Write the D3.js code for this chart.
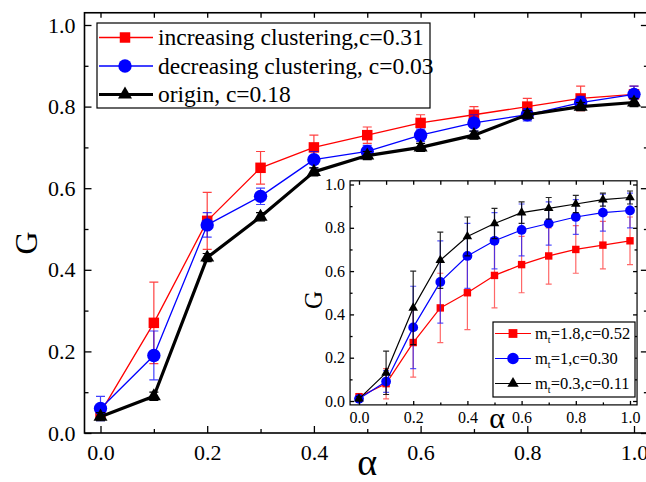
<!DOCTYPE html>
<html>
<head>
<meta charset="utf-8">
<script src="https://cdn.jsdelivr.net/npm/d3@7"></script>
<style>
  body { margin: 0; background: #fff; }
  svg { display: block; }
  svg text { font-family: "Liberation Serif", "Times New Roman", Times, "DejaVu Serif", serif; fill: #000; }
  .axis path { display: none; }
  .axis line { stroke: #000; stroke-width: 1.3; }
</style>
</head>
<body>
<svg id="chart" width="646" height="482"></svg>
<script>
// alpha values shared by both panels
var alphas = [0, 0.1, 0.2, 0.3, 0.4, 0.5, 0.6, 0.7, 0.8, 0.9, 1.0];

// main panel
var mainNames = ["increasing clustering,c=0.31", "decreasing clustering, c=0.03", "origin, c=0.18"];
var incValues = [0.05, 0.27, 0.52, 0.65, 0.70, 0.73, 0.76, 0.78, 0.80, 0.82, 0.83];
var incErrors = [0.01, 0.10, 0.07, 0.04, 0.03, 0.02, 0.02, 0.02, 0.02, 0.03, 0.02];
var decValues = [0.06, 0.19, 0.51, 0.58, 0.67, 0.69, 0.73, 0.76, 0.78, 0.81, 0.83];
var decErrors = [0.03, 0.06, 0.03, 0.02, 0.02, 0.015, 0.015, 0.02, 0.015, 0.015, 0.02];
var orgValues = [0.04, 0.09, 0.43, 0.53, 0.64, 0.68, 0.70, 0.73, 0.78, 0.80, 0.81];
var orgErrors = [0.01, 0.01, 0.01, 0.01, 0.01, 0.01, 0.01, 0.01, 0.01, 0.01, 0.01];

// inset panel
var insetNames = ["1.8,c=0.52", "1,c=0.30", "0.3,c=0.11"];
var m18Values = [0.02, 0.08, 0.27, 0.43, 0.50, 0.58, 0.63, 0.67, 0.70, 0.72, 0.74];
var m18Errors = [0.01, 0.07, 0.16, 0.16, 0.17, 0.15, 0.13, 0.13, 0.11, 0.11, 0.11];
var m1Values = [0.01, 0.09, 0.34, 0.55, 0.67, 0.74, 0.79, 0.82, 0.85, 0.87, 0.88];
var m1Errors = [0.01, 0.05, 0.19, 0.19, 0.15, 0.13, 0.12, 0.10, 0.08, 0.085, 0.08];
var m03Values = [0.01, 0.13, 0.43, 0.65, 0.76, 0.82, 0.87, 0.89, 0.91, 0.93, 0.94];
var m03Errors = [0.01, 0.10, 0.17, 0.13, 0.09, 0.07, 0.05, 0.05, 0.04, 0.03, 0.03];

var majorTicks = [0, 0.2, 0.4, 0.6, 0.8, 1.0];
var minorTicks = [0.1, 0.3, 0.5, 0.7, 0.9];

var serif = "'Liberation Serif', 'Times New Roman', Times, 'DejaVu Serif', serif";

var svg = d3.select("#chart");
var format = d3.format(".1f");

function zip(values, errors) {
  return alphas.map(function(a, i) { return {x: a, y: values[i], e: errors[i]}; });
}

function symbolPath(type, size) {
  return d3.symbol().type(type).size(size)();
}

// frame + inward ticks for a panel
function drawFrame(g, x, y, box, opt) {
  g.append("rect")
      .attr("x", x(box.x0)).attr("y", y(box.y1))
      .attr("width", x(box.x1) - x(box.x0))
      .attr("height", y(box.y0) - y(box.y1))
      .attr("fill", "none")
      .attr("stroke", "#000").attr("stroke-width", opt.stroke);

  var bottom = y(box.y0), top = y(box.y1), left = x(box.x0), right = x(box.x1);

  g.append("g").attr("class", "axis")
      .attr("transform", "translate(0," + bottom + ")")
      .call(d3.axisBottom(x).tickValues(majorTicks).tickFormat(format)
        .tickSize(-opt.major).tickPadding(opt.padX))
      .attr("font-family", serif).attr("font-size", opt.fontSize);
  g.append("g").attr("class", "axis")
      .attr("transform", "translate(0," + bottom + ")")
      .call(d3.axisBottom(x).tickValues(minorTicks).tickFormat("").tickSize(-opt.minor));

  g.append("g").attr("class", "axis")
      .attr("transform", "translate(" + left + ",0)")
      .call(d3.axisLeft(y).tickValues(majorTicks).tickFormat(format)
        .tickSize(-opt.major).tickPadding(opt.padY))
      .attr("font-family", serif).attr("font-size", opt.fontSize);
  g.append("g").attr("class", "axis")
      .attr("transform", "translate(" + left + ",0)")
      .call(d3.axisLeft(y).tickValues(minorTicks).tickFormat("").tickSize(-opt.minor));

  g.append("g").attr("class", "axis")
      .attr("transform", "translate(0," + top + ")")
      .call(d3.axisTop(x).tickValues(majorTicks.concat(minorTicks)).tickFormat("").tickSize(-opt.top));
  g.append("g").attr("class", "axis")
      .attr("transform", "translate(" + right + ",0)")
      .call(d3.axisRight(y).tickValues(majorTicks).tickFormat("").tickSize(-opt.major));
  g.append("g").attr("class", "axis")
      .attr("transform", "translate(" + right + ",0)")
      .call(d3.axisRight(y).tickValues(minorTicks).tickFormat("").tickSize(-opt.minor));
}

function drawSeries(g, x, y, s) {
  var data = zip(s.values, s.errors);
  g.append("g")
      .attr("stroke", s.errColor).attr("stroke-width", 1.2).attr("fill", "none")
    .selectAll("path")
      .data(data)
    .enter().append("path")
      .attr("d", function(d) {
        var cx = x(d.x), t = y(d.y + d.e), b = y(d.y - d.e), w = s.cap / 2;
        return "M" + cx + "," + t + "V" + b +
               "M" + (cx - w) + "," + t + "H" + (cx + w) +
               "M" + (cx - w) + "," + b + "H" + (cx + w);
      });

  g.append("path")
      .datum(data)
      .attr("fill", "none")
      .attr("stroke", s.color)
      .attr("stroke-width", s.width)
      .attr("stroke-linejoin", "round")
      .attr("d", d3.line().x(function(d) { return x(d.x); }).y(function(d) { return y(d.y); }));

  g.append("g").selectAll("path")
      .data(data)
    .enter().append("path")
      .attr("transform", function(d) { return "translate(" + x(d.x) + "," + y(d.y) + ")"; })
      .attr("d", symbolPath(s.symbol, s.size))
      .attr("fill", s.color);
}

// ---------- main panel ----------
var x = d3.scaleLinear().domain([0, 1]).range([100.5, 634]);
var y = d3.scaleLinear().domain([0, 1]).range([433, 25]);
var main = svg.append("g");

var mainSeries = [
  {values: incValues, errors: incErrors, color: "#ff0000", errColor: "rgba(255,0,0,0.75)", width: 1.3, symbol: d3.symbolSquare, size: 110, cap: 9},
  {values: decValues, errors: decErrors, color: "#0000ff", errColor: "rgba(0,0,255,0.75)", width: 1.3, symbol: d3.symbolCircle, size: 140, cap: 9},
  {values: orgValues, errors: orgErrors, color: "#000000", errColor: "#000", width: 3.2, symbol: d3.symbolTriangle, size: 85, cap: 9}
];
mainSeries.forEach(function(s) { drawSeries(main, x, y, s); });

drawFrame(main, x, y, {x0: -0.03, x1: 1.026, y0: 0, y1: 1.03},
  {stroke: 1.6, fontSize: 22, major: 7, minor: 4, top: 5, padX: 11, padY: 9});

main.append("text")
    .attr("x", x(0.5)).attr("y", 475)
    .attr("text-anchor", "middle")
    .style("font-size", "38px")
    .text("α");
main.append("text")
    .attr("transform", "translate(37,243) rotate(-90)")
    .attr("text-anchor", "middle")
    .style("font-size", "32px")
    .text("G");

// main legend
var legend = main.append("g").attr("transform", "translate(97,23)");
legend.append("rect")
    .attr("width", 333).attr("height", 85)
    .attr("fill", "#fff").attr("stroke", "#000").attr("stroke-width", 1.2);
var entry = legend.selectAll(".entry")
    .data(mainSeries)
  .enter().append("g")
    .attr("class", "entry")
    .attr("transform", function(d, i) { return "translate(0," + (14.5 + i * 28.5) + ")"; });
entry.append("line")
    .attr("x1", 2).attr("x2", 56)
    .attr("stroke", function(d) { return d.color; })
    .attr("stroke-width", function(d) { return d.width; });
entry.append("path")
    .attr("transform", "translate(28,0)")
    .attr("d", function(d) { return symbolPath(d.symbol, d.size); })
    .attr("fill", function(d) { return d.color; });
entry.append("text")
    .attr("x", 61).attr("dy", "0.33em")
    .style("font-size", "23.5px")
    .text(function(d, i) { return mainNames[i]; });

// ---------- inset panel ----------
var xi = d3.scaleLinear().domain([0, 1]).range([359, 630]);
var yi = d3.scaleLinear().domain([0, 1]).range([401, 184.5]);
var inset = svg.append("g");

inset.append("rect")
    .attr("x", xi(-0.033)).attr("y", yi(1.017))
    .attr("width", xi(1.026) - xi(-0.033))
    .attr("height", yi(-0.018) - yi(1.017))
    .attr("fill", "#fff");

var insetSeries = [
  {values: m18Values, errors: m18Errors, color: "#ff0000", errColor: "rgba(255,40,40,0.7)", width: 1.2, symbol: d3.symbolSquare, size: 55, cap: 6},
  {values: m1Values, errors: m1Errors, color: "#0000ff", errColor: "rgba(30,30,255,0.75)", width: 1.2, symbol: d3.symbolCircle, size: 75, cap: 6},
  {values: m03Values, errors: m03Errors, color: "#000000", errColor: "rgba(0,0,0,0.85)", width: 1.2, symbol: d3.symbolTriangle, size: 40, cap: 6}
];
insetSeries.forEach(function(s) { drawSeries(inset, xi, yi, s); });

drawFrame(inset, xi, yi, {x0: -0.033, x1: 1.026, y0: -0.018, y1: 1.017},
  {stroke: 1.2, fontSize: 16, major: 4, minor: 2.5, top: 4, padX: 7, padY: 5});

inset.append("text")
    .attr("x", 497).attr("y", 428)
    .attr("text-anchor", "middle")
    .style("font-size", "30px")
    .text("α");
inset.append("text")
    .attr("transform", "translate(322,300) rotate(-90)")
    .attr("text-anchor", "middle")
    .style("font-size", "25px")
    .text("G");

// inset legend
var ilegend = inset.append("g").attr("transform", "translate(493,322)");
ilegend.append("rect")
    .attr("width", 142).attr("height", 75)
    .attr("fill", "#fff").attr("stroke", "#000").attr("stroke-width", 1.2);
var ientry = ilegend.selectAll(".entry")
    .data(insetSeries)
  .enter().append("g")
    .attr("class", "entry")
    .attr("transform", function(d, i) { return "translate(0," + (11.5 + i * 25) + ")"; });
ientry.append("line")
    .attr("x1", 2).attr("x2", 38)
    .attr("stroke", function(d) { return d.color; })
    .attr("stroke-width", 1.2);
ientry.append("path")
    .attr("transform", "translate(20,0)")
    .attr("d", function(d) { return symbolPath(d.symbol, d.size * 1.4); })
    .attr("fill", function(d) { return d.color; });
var itext = ientry.append("text")
    .attr("x", 42).attr("dy", "0.33em")
    .style("font-size", "16.5px");
itext.append("tspan").text("m");
itext.append("tspan").attr("dy", 4).style("font-size", "10px").text("t");
itext.append("tspan").attr("dy", -4).text(function(d, i) { return "=" + insetNames[i]; });
</script>
</body>
</html>
